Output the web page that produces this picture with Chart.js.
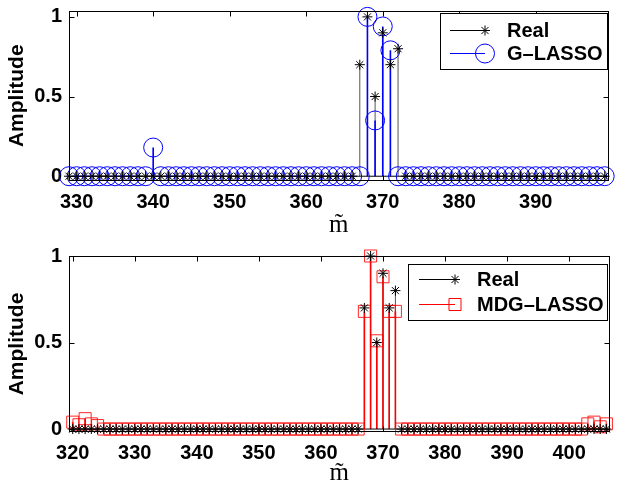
<!DOCTYPE html>
<html>
<head>
<meta charset="utf-8">
<script src="https://cdn.jsdelivr.net/npm/chart.js@4.4.0/dist/chart.umd.min.js"></script>
<style>
  html, body { margin: 0; padding: 0; background: #fff; overflow: hidden; }
  #wrap { position: relative; width: 619px; height: 487px; }
  canvas { position: absolute; left: 0; }
</style>
</head>
<body>
<div id="wrap">
  <canvas id="topChart" width="619" height="243" style="top:0"></canvas>
  <canvas id="botChart" width="619" height="250" style="top:243px"></canvas>
</div>
<script>
// upper panel, m = 329 ... 399
const topM0 = 329;
const topReal = [
  0, 0, 0, 0, 0, 0, 0, 0, 0, 0,
  0, 0, 0, 0, 0, 0, 0, 0, 0, 0,
  0, 0, 0, 0, 0, 0, 0, 0, 0, 0,
  0, 0, 0, 0, 0, 0, 0, 0, 0.70, 1.00,
  0.50, 0.90, 0.70, 0.80, 0, 0, 0, 0, 0, 0,
  0, 0, 0, 0, 0, 0, 0, 0, 0, 0,
  0, 0, 0, 0, 0, 0, 0, 0, 0, 0,
  0
];
const topGLasso = [
  0, 0, 0, 0, 0, 0, 0, 0, 0, 0,
  0, 0.18, 0, 0, 0, 0, 0, 0, 0, 0,
  0, 0, 0, 0, 0, 0, 0, 0, 0, 0,
  0, 0, 0, 0, 0, 0, 0, 0, 0, 1.00,
  0.35, 0.94, 0.79, 0, 0, 0, 0, 0, 0, 0,
  0, 0, 0, 0, 0, 0, 0, 0, 0, 0,
  0, 0, 0, 0, 0, 0, 0, 0, 0, 0,
  0
];

// lower panel, m = 320 ... 406
const botM0 = 320;
const botReal = [
  0, 0, 0, 0, 0, 0, 0, 0, 0, 0,
  0, 0, 0, 0, 0, 0, 0, 0, 0, 0,
  0, 0, 0, 0, 0, 0, 0, 0, 0, 0,
  0, 0, 0, 0, 0, 0, 0, 0, 0, 0,
  0, 0, 0, 0, 0, 0, 0, 0.70, 1.00, 0.50,
  0.90, 0.70, 0.80, 0, 0, 0, 0, 0, 0, 0,
  0, 0, 0, 0, 0, 0, 0, 0, 0, 0,
  0, 0, 0, 0, 0, 0, 0, 0, 0, 0,
  0, 0, 0, 0, 0, 0, 0
];
const botMdgLasso = [
  0.04, 0.025, 0.06, 0.03, 0.02, 0, 0, 0, 0, 0,
  0, 0, 0, 0, 0, 0, 0, 0, 0, 0,
  0, 0, 0, 0, 0, 0, 0, 0, 0, 0,
  0, 0, 0, 0, 0, 0, 0, 0, 0, 0,
  0, 0, 0, 0, 0, 0, 0, 0.68, 1.00, 0.51,
  0.88, 0.68, 0.68, 0, 0, 0, 0, 0, 0, 0,
  0, 0, 0, 0, 0, 0, 0, 0, 0, 0,
  0, 0, 0, 0, 0, 0, 0, 0, 0, 0,
  0, 0, 0, 0.03, 0.04, 0.013, 0.03
];

const topXTicks = [330, 340, 350, 360, 370, 380, 390];
const botXTicks = [320, 330, 340, 350, 360, 370, 380, 390, 400];
const yTicks = [0, 0.5, 1];

const tickFont = { family: 'Liberation Sans', size: 20, weight: 'bold' };

function drawMarker(ctx, style, x, y, r, color) {
  ctx.strokeStyle = color;
  ctx.lineWidth = 1;
  ctx.beginPath();
  if (style === 'star') {
    for (let k = 0; k < 4; k++) {
      const a = k * Math.PI / 4;
      ctx.moveTo(x - r * Math.cos(a), y - r * Math.sin(a));
      ctx.lineTo(x + r * Math.cos(a), y + r * Math.sin(a));
    }
  } else if (style === 'circle') {
    ctx.arc(x, y, r, 0, 2 * Math.PI);
  } else {
    const s = r * Math.SQRT1_2;
    ctx.rect(x - s, y - s, 2 * s, 2 * s);
  }
  ctx.stroke();
}

// axes box, inward ticks and the legend
const frame = {
  id: 'frame',
  afterDraw(chart, args, opts) {
    const { ctx, chartArea: a, scales: { x, y } } = chart;
    ctx.save();
    ctx.strokeStyle = '#000';
    ctx.lineWidth = 1;
    const L = Math.round(a.left) + 0.5, T = Math.round(a.top) + 0.5;
    const R = Math.round(a.right) - 0.5, B = Math.round(a.bottom) - 0.5;
    ctx.strokeRect(L, T, R - L, B - T);
    ctx.beginPath();
    x.ticks.forEach(t => {
      const px = Math.round(x.getPixelForValue(t.value)) + 0.5;
      ctx.moveTo(px, B); ctx.lineTo(px, B - 5);
      ctx.moveTo(px, T); ctx.lineTo(px, T + 5);
    });
    y.ticks.forEach(t => {
      const py = Math.round(y.getPixelForValue(t.value)) + 0.5;
      ctx.moveTo(L, py); ctx.lineTo(L + 5, py);
      ctx.moveTo(R, py); ctx.lineTo(R - 5, py);
    });
    ctx.stroke();

    const [bx, by, bw, bh] = opts.box;
    ctx.fillStyle = '#fff';
    ctx.fillRect(bx, by, bw, bh);
    ctx.strokeStyle = '#000';
    ctx.strokeRect(bx + 0.5, by + 0.5, bw, bh);
    ctx.font = 'bold 20px "Liberation Sans"';
    ctx.textBaseline = 'middle';
    ctx.textAlign = 'left';
    opts.rows.forEach(r => {
      ctx.strokeStyle = r.color;
      ctx.beginPath();
      ctx.moveTo(opts.lineX[0], r.y + 0.5);
      ctx.lineTo(opts.lineX[1], r.y + 0.5);
      ctx.stroke();
      drawMarker(ctx, r.marker, opts.lineX[1], r.y + 0.5, r.r, r.color);
      ctx.fillStyle = '#000';
      ctx.fillText(r.label, opts.textX, r.y + 1);
    });
    ctx.restore();
  }
};

function panel(id, cfg) {
  const xs = cfg.real.map((_, i) => cfg.m0 + i);
  const pts = ys => xs.map((x, i) => ({ x, y: ys[i] }));
  const stems = ys => xs.flatMap((x, i) => [{ x, y: 0 }, { x, y: ys[i] }, { x, y: null }]);
  new Chart(document.getElementById(id), {
    type: 'line',
    data: {
      datasets: [
        { order: 0, data: pts(cfg.real), showLine: false, pointStyle: 'star', pointRadius: 5,
          pointBorderColor: '#000', pointBorderWidth: 1, clip: false },
        { order: 1, data: pts(cfg.est), showLine: false, pointStyle: cfg.marker, pointRadius: cfg.markerR,
          pointBorderColor: cfg.markerColor, pointBackgroundColor: 'rgba(0,0,0,0)',
          pointBorderWidth: 1, clip: false },
        { order: 2, data: [{ x: cfg.xMin, y: 0 }, { x: cfg.xMax, y: 0 }], borderColor: '#000',
          borderWidth: 1, pointRadius: 0 },
        { order: 3, data: stems(cfg.est), borderColor: cfg.color, borderWidth: 1.6, pointRadius: 0, spanGaps: false },
        { order: 4, data: stems(cfg.real), borderColor: '#555', borderWidth: 1, pointRadius: 0, spanGaps: false }
      ]
    },
    options: {
      responsive: false,
      animation: false,
      events: [],
      layout: { padding: cfg.pad },
      plugins: { legend: { display: false }, tooltip: { enabled: false }, frame: cfg.legend },
      scales: {
        x: {
          type: 'linear', min: cfg.xMin, max: cfg.xMax,
          afterBuildTicks: s => { s.ticks = cfg.xTicks.map(v => ({ value: v })); },
          afterFit: s => { s.height = cfg.xAxisH; s.paddingLeft = 0; s.paddingRight = 0; },
          grid: { display: false, drawTicks: false }, border: { display: false },
          ticks: { font: tickFont, color: '#000', padding: 9, maxRotation: 0, autoSkip: false,
                   callback: v => String(v) },
          title: { display: true, text: 'm\u0303', color: '#000',
                   font: { family: 'Liberation Serif', size: 25, lineHeight: 1 },
                   padding: { top: 0, bottom: cfg.titlePad } }
        },
        y: {
          min: cfg.yMin, max: cfg.yMax,
          afterBuildTicks: s => { s.ticks = yTicks.map(v => ({ value: v })); },
          afterFit: s => { s.width = 69; s.paddingTop = 0; s.paddingBottom = 0; },
          grid: { display: false, drawTicks: false }, border: { display: false },
          ticks: { font: tickFont, color: '#000', padding: 7, callback: v => String(v) },
          title: { display: true, text: 'Amplitude', color: '#000',
                   font: { family: 'Liberation Sans', size: 21, weight: 'bold', lineHeight: 1 },
                   padding: { top: 6.5, bottom: 0 } }
        }
      }
    },
    plugins: [frame]
  });
}

panel('topChart', {
  m0: topM0, real: topReal, est: topGLasso,
  color: '#0000ff', markerColor: '#0000ff', marker: 'circle', markerR: 9.5,
  xMin: 329, xMax: 399.5, yMin: -0.03, yMax: 1.04, xTicks: topXTicks,
  pad: { left: 0, right: 3, top: 5, bottom: 0 }, xAxisH: 62, titlePad: 5.5,
  legend: {
    box: [440, 13, 167, 56], lineX: [450, 485], textX: 507,
    rows: [
      { label: 'Real', color: '#000', marker: 'star', r: 5, y: 30 },
      { label: 'G\u2013LASSO', color: '#0000ff', marker: 'circle', r: 9.5, y: 53 }
    ]
  }
});

panel('botChart', {
  m0: botM0, real: botReal, est: botMdgLasso,
  color: '#ff0000', markerColor: 'rgba(255,0,0,0.85)', marker: 'rect', markerR: 8.5,
  xMin: 319.4, xMax: 406.5, yMin: -0.017, yMax: 1.0, xTicks: botXTicks,
  pad: { left: 0, right: 3, top: 13, bottom: 0 }, xAxisH: 61, titlePad: 7,
  legend: {
    box: [408, 21, 199, 56], lineX: [419, 455], textX: 477,
    rows: [
      { label: 'Real', color: '#000', marker: 'star', r: 5, y: 36 },
      { label: 'MDG\u2013LASSO', color: '#ff0000', marker: 'rect', r: 8.5, y: 61 }
    ]
  }
});
</script>
</body>
</html>
